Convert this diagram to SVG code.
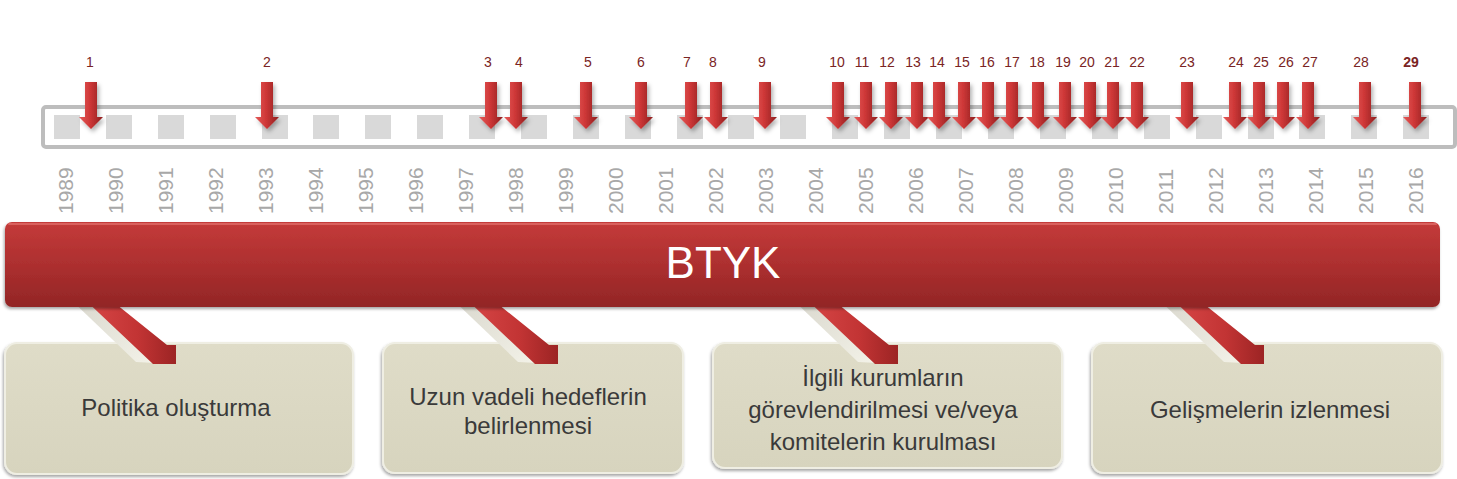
<svg xmlns="http://www.w3.org/2000/svg" xmlns:xlink="http://www.w3.org/1999/xlink" width="1457" height="479" viewBox="0 0 1457 479">
<style>
.num{font-family:"Liberation Sans",Arial,sans-serif;font-size:14px;fill:#7a2424;text-anchor:middle}
.yr{font-family:"Liberation Sans",Arial,sans-serif;font-size:21px;fill:#a8a8a8}
.sq{fill:#d9d9d9}
.box{fill:url(#boxg);stroke:#efeee3;stroke-width:2;filter:url(#bsh)}
.bt{font-family:"Liberation Sans",Arial,sans-serif;font-size:24px;fill:#3a3a3a;text-anchor:middle}
.cream{fill:url(#creamg)}
.red{fill:url(#redg)}
</style>
<defs>
<linearGradient id="mkg" x1="0" y1="0" x2="1" y2="0">
<stop offset="0" stop-color="#e45a58"/>
<stop offset="0.45" stop-color="#cf3838"/>
<stop offset="1" stop-color="#8e1e1e"/>
</linearGradient>
<linearGradient id="barg" x1="0" y1="0" x2="0" y2="1">
<stop offset="0" stop-color="#c43b3a"/>
<stop offset="0.5" stop-color="#ad2f2f"/>
<stop offset="1" stop-color="#922626"/>
</linearGradient>
<linearGradient id="boxg" x1="0" y1="0" x2="0" y2="1">
<stop offset="0" stop-color="#dfdcc8"/>
<stop offset="1" stop-color="#d7d4be"/>
</linearGradient>
<linearGradient id="redg" x1="0" y1="0" x2="1" y2="0">
<stop offset="0" stop-color="#d94848"/>
<stop offset="0.6" stop-color="#c23434"/>
<stop offset="1" stop-color="#9c2424"/>
</linearGradient>
<linearGradient id="creamg" x1="0" y1="0" x2="1" y2="1">
<stop offset="0" stop-color="#d8d6cc"/>
<stop offset="1" stop-color="#f3f2e8"/>
</linearGradient>
<filter id="ash" x="-50%" y="-20%" width="200%" height="150%">
<feDropShadow dx="2" dy="3" stdDeviation="2" flood-color="#000" flood-opacity="0.3"/>
</filter>
<filter id="bsh" x="-5%" y="-5%" width="110%" height="115%">
<feDropShadow dx="-1" dy="2" stdDeviation="1.5" flood-color="#000" flood-opacity="0.35"/>
</filter>
<path id="mk" d="M-6,82 H6 V117 H12 L0,129 L-12,117 H-6 Z" fill="url(#mkg)"/>
<g id="darr">
<polygon class="cream" points="67,296 81,296 155,363 136,362"/>
<polygon class="red" points="81,296 106,296 167,345 176,345 176,364 153,364"/>
</g>
</defs>
<rect width="1457" height="479" fill="#fff"/>

<g id="timeline">
<rect x="43" y="107" width="1412" height="40" rx="3" fill="#fff" stroke="#bdbdbd" stroke-width="4"/>
<rect class="sq" x="54" y="115" width="26" height="24"/>
<rect class="sq" x="106" y="115" width="26" height="24"/>
<rect class="sq" x="158" y="115" width="26" height="24"/>
<rect class="sq" x="210" y="115" width="26" height="24"/>
<rect class="sq" x="262" y="115" width="26" height="24"/>
<rect class="sq" x="313" y="115" width="26" height="24"/>
<rect class="sq" x="365" y="115" width="26" height="24"/>
<rect class="sq" x="417" y="115" width="26" height="24"/>
<rect class="sq" x="469" y="115" width="26" height="24"/>
<rect class="sq" x="521" y="115" width="26" height="24"/>
<rect class="sq" x="573" y="115" width="26" height="24"/>
<rect class="sq" x="625" y="115" width="26" height="24"/>
<rect class="sq" x="677" y="115" width="26" height="24"/>
<rect class="sq" x="728" y="115" width="26" height="24"/>
<rect class="sq" x="780" y="115" width="26" height="24"/>
<rect class="sq" x="832" y="115" width="26" height="24"/>
<rect class="sq" x="884" y="115" width="26" height="24"/>
<rect class="sq" x="936" y="115" width="26" height="24"/>
<rect class="sq" x="988" y="115" width="26" height="24"/>
<rect class="sq" x="1040" y="115" width="26" height="24"/>
<rect class="sq" x="1092" y="115" width="26" height="24"/>
<rect class="sq" x="1144" y="115" width="26" height="24"/>
<rect class="sq" x="1196" y="115" width="26" height="24"/>
<rect class="sq" x="1248" y="115" width="26" height="24"/>
<rect class="sq" x="1299" y="115" width="26" height="24"/>
<rect class="sq" x="1351" y="115" width="26" height="24"/>
<rect class="sq" x="1403" y="115" width="26" height="24"/>
</g>

<g id="years">
<text class="yr" transform="translate(72.5,214) rotate(-90)">1989</text>
<text class="yr" transform="translate(122.5,214) rotate(-90)">1990</text>
<text class="yr" transform="translate(172.5,214) rotate(-90)">1991</text>
<text class="yr" transform="translate(222.5,214) rotate(-90)">1992</text>
<text class="yr" transform="translate(272.5,214) rotate(-90)">1993</text>
<text class="yr" transform="translate(322.5,214) rotate(-90)">1994</text>
<text class="yr" transform="translate(372.5,214) rotate(-90)">1995</text>
<text class="yr" transform="translate(422.5,214) rotate(-90)">1996</text>
<text class="yr" transform="translate(472.5,214) rotate(-90)">1997</text>
<text class="yr" transform="translate(522.5,214) rotate(-90)">1998</text>
<text class="yr" transform="translate(572.5,214) rotate(-90)">1999</text>
<text class="yr" transform="translate(622.5,214) rotate(-90)">2000</text>
<text class="yr" transform="translate(672.5,214) rotate(-90)">2001</text>
<text class="yr" transform="translate(722.5,214) rotate(-90)">2002</text>
<text class="yr" transform="translate(772.5,214) rotate(-90)">2003</text>
<text class="yr" transform="translate(822.5,214) rotate(-90)">2004</text>
<text class="yr" transform="translate(872.5,214) rotate(-90)">2005</text>
<text class="yr" transform="translate(922.5,214) rotate(-90)">2006</text>
<text class="yr" transform="translate(972.5,214) rotate(-90)">2007</text>
<text class="yr" transform="translate(1022.5,214) rotate(-90)">2008</text>
<text class="yr" transform="translate(1072.5,214) rotate(-90)">2009</text>
<text class="yr" transform="translate(1122.5,214) rotate(-90)">2010</text>
<text class="yr" transform="translate(1172.5,214) rotate(-90)">2011</text>
<text class="yr" transform="translate(1222.5,214) rotate(-90)">2012</text>
<text class="yr" transform="translate(1272.5,214) rotate(-90)">2013</text>
<text class="yr" transform="translate(1322.5,214) rotate(-90)">2014</text>
<text class="yr" transform="translate(1372.5,214) rotate(-90)">2015</text>
<text class="yr" transform="translate(1422.5,214) rotate(-90)">2016</text>
</g>

<g id="markers" filter="url(#ash)">
<use href="#mk" x="91"/><use href="#mk" x="267"/><use href="#mk" x="491"/><use href="#mk" x="516"/>
<use href="#mk" x="586"/><use href="#mk" x="641"/><use href="#mk" x="691"/><use href="#mk" x="716"/>
<use href="#mk" x="765"/><use href="#mk" x="838"/><use href="#mk" x="866"/><use href="#mk" x="891"/>
<use href="#mk" x="917"/><use href="#mk" x="939"/><use href="#mk" x="964"/><use href="#mk" x="988"/>
<use href="#mk" x="1012"/><use href="#mk" x="1038"/><use href="#mk" x="1065"/><use href="#mk" x="1090"/>
<use href="#mk" x="1113"/><use href="#mk" x="1137"/><use href="#mk" x="1187"/><use href="#mk" x="1235"/>
<use href="#mk" x="1259"/><use href="#mk" x="1283"/><use href="#mk" x="1308"/><use href="#mk" x="1365"/>
<use href="#mk" x="1415"/>
</g>

<g id="marker-labels">
<text class="num" x="90" y="67">1</text>
<text class="num" x="267" y="67">2</text>
<text class="num" x="488" y="67">3</text>
<text class="num" x="519" y="67">4</text>
<text class="num" x="588" y="67">5</text>
<text class="num" x="641" y="67">6</text>
<text class="num" x="687" y="67">7</text>
<text class="num" x="713" y="67">8</text>
<text class="num" x="762" y="67">9</text>
<text class="num" x="837" y="67">10</text>
<text class="num" x="862" y="67">11</text>
<text class="num" x="887" y="67">12</text>
<text class="num" x="913" y="67">13</text>
<text class="num" x="937" y="67">14</text>
<text class="num" x="962" y="67">15</text>
<text class="num" x="987" y="67">16</text>
<text class="num" x="1012" y="67">17</text>
<text class="num" x="1037" y="67">18</text>
<text class="num" x="1063" y="67">19</text>
<text class="num" x="1087" y="67">20</text>
<text class="num" x="1112" y="67">21</text>
<text class="num" x="1137" y="67">22</text>
<text class="num" x="1187" y="67">23</text>
<text class="num" x="1236" y="67">24</text>
<text class="num" x="1261" y="67">25</text>
<text class="num" x="1286" y="67">26</text>
<text class="num" x="1310" y="67">27</text>
<text class="num" x="1361" y="67">28</text>
<text class="num" x="1411" y="67" font-weight="bold">29</text>
</g>

<g id="box1">
<rect class="box" x="5" y="343" width="348" height="131" rx="12"/>
<text class="bt" x="176" y="416">Politika oluşturma</text>
</g>
<g id="box2">
<rect class="box" x="383" y="343" width="300" height="130" rx="12"/>
<text class="bt" x="528" y="405">Uzun vadeli hedeflerin</text>
<text class="bt" x="528" y="434">belirlenmesi</text>
</g>
<g id="box3">
<rect class="box" x="713" y="343" width="349" height="125" rx="12"/>
<text class="bt" x="883" y="386">İlgili kurumların</text>
<text class="bt" x="883" y="418">görevlendirilmesi ve/veya</text>
<text class="bt" x="883" y="450">komitelerin kurulması</text>
</g>
<g id="box4">
<rect class="box" x="1092" y="343" width="350" height="130" rx="12"/>
<text class="bt" x="1270" y="418">Gelişmelerin izlenmesi</text>
</g>

<g id="connectors">
<use href="#darr"/>
<use href="#darr" x="382"/>
<use href="#darr" x="722"/>
<use href="#darr" x="1088"/>
</g>

<g id="btyk">
<rect x="5" y="222" width="1435" height="85" rx="7" fill="url(#barg)" filter="url(#bsh)"/>
<rect x="8" y="223" width="1429" height="2" rx="1" fill="#df6a66" opacity="0.8"/>
<text x="723" y="278" font-family="Liberation Sans,Arial,sans-serif" font-size="44" fill="#fff" text-anchor="middle">BTYK</text>
</g>
</svg>
